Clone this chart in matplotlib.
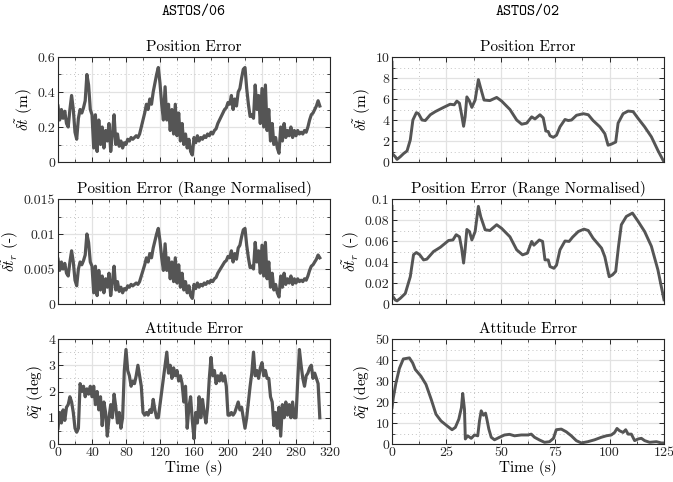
import numpy as np
import matplotlib
matplotlib.use("Agg")
import matplotlib.pyplot as plt
from matplotlib.ticker import MultipleLocator

plt.rcParams["font.family"] = "cmr10"
plt.rcParams["mathtext.fontset"] = "cm"
plt.rcParams["axes.unicode_minus"] = False

# ── data: ASTOS/06 (sampled every 2 s) ───────────────────────────────────────
t06 = np.arange(0, 310, 2)
pos06 = [
    0.32, 0.24, 0.30, 0.25, 0.29, 0.22, 0.20, 0.30, 0.38, 0.30,
    0.17, 0.13, 0.25, 0.30, 0.28, 0.31, 0.35, 0.50, 0.44, 0.30,
    0.27, 0.08, 0.27, 0.06, 0.24, 0.10, 0.20, 0.08, 0.18, 0.12,
    0.22, 0.06, 0.16, 0.27, 0.10, 0.16, 0.09, 0.12, 0.08, 0.11,
    0.10, 0.13, 0.12, 0.14, 0.13, 0.14, 0.15, 0.14, 0.16, 0.20,
    0.24, 0.28, 0.33, 0.30, 0.36, 0.33, 0.40, 0.45, 0.50, 0.54,
    0.45, 0.33, 0.24, 0.43, 0.24, 0.33, 0.18, 0.30, 0.16, 0.33,
    0.15, 0.28, 0.12, 0.22, 0.10, 0.16, 0.08, 0.13, 0.06, 0.04,
    0.14, 0.11, 0.15, 0.12, 0.14, 0.13, 0.15, 0.14, 0.16, 0.15,
    0.17, 0.16, 0.18, 0.19, 0.22, 0.24, 0.26, 0.28, 0.30, 0.31,
    0.34, 0.33, 0.38, 0.30, 0.36, 0.32, 0.40, 0.42, 0.48, 0.53,
    0.54, 0.42, 0.33, 0.26, 0.27, 0.25, 0.44, 0.30, 0.38, 0.22,
    0.42, 0.20, 0.44, 0.18, 0.30, 0.12, 0.22, 0.10, 0.14, 0.08,
    0.05, 0.20, 0.12, 0.22, 0.14, 0.18, 0.15, 0.20, 0.14, 0.18,
    0.15, 0.18, 0.16, 0.17, 0.16, 0.18, 0.17, 0.20, 0.24, 0.27,
    0.28, 0.30, 0.32, 0.35, 0.32,
]
posn06 = [
    0.0064, 0.0048, 0.0060, 0.0050, 0.0058, 0.0044, 0.0040, 0.0060, 0.0076, 0.0060,
    0.0034, 0.0026, 0.0050, 0.0060, 0.0056, 0.0062, 0.0070, 0.0100, 0.0088, 0.0060,
    0.0054, 0.0016, 0.0054, 0.0012, 0.0048, 0.0020, 0.0040, 0.0016, 0.0036, 0.0024,
    0.0044, 0.0012, 0.0032, 0.0054, 0.0020, 0.0032, 0.0018, 0.0024, 0.0016, 0.0022,
    0.0020, 0.0026, 0.0024, 0.0028, 0.0026, 0.0028, 0.0030, 0.0028, 0.0032, 0.0040,
    0.0048, 0.0056, 0.0066, 0.0060, 0.0072, 0.0066, 0.0080, 0.0090, 0.0100, 0.0108,
    0.0090, 0.0066, 0.0048, 0.0086, 0.0048, 0.0066, 0.0036, 0.0060, 0.0032, 0.0066,
    0.0030, 0.0056, 0.0024, 0.0044, 0.0020, 0.0032, 0.0016, 0.0026, 0.0012, 0.0008,
    0.0028, 0.0022, 0.0030, 0.0024, 0.0028, 0.0026, 0.0030, 0.0028, 0.0032, 0.0030,
    0.0034, 0.0032, 0.0036, 0.0038, 0.0044, 0.0048, 0.0052, 0.0056, 0.0060, 0.0062,
    0.0068, 0.0066, 0.0076, 0.0060, 0.0072, 0.0064, 0.0080, 0.0084, 0.0096, 0.0106,
    0.0108, 0.0084, 0.0066, 0.0052, 0.0054, 0.0050, 0.0088, 0.0060, 0.0076, 0.0044,
    0.0084, 0.0040, 0.0088, 0.0036, 0.0060, 0.0024, 0.0044, 0.0020, 0.0028, 0.0016,
    0.0010, 0.0040, 0.0024, 0.0044, 0.0028, 0.0036, 0.0030, 0.0040, 0.0028, 0.0036,
    0.0030, 0.0036, 0.0032, 0.0034, 0.0032, 0.0036, 0.0034, 0.0040, 0.0048, 0.0054,
    0.0056, 0.0060, 0.0064, 0.0070, 0.0066,
]
att06 = [
    0.6, 1.2, 0.8, 1.3, 0.9, 1.4, 1.5, 1.8, 1.6, 1.2,
    0.6, 0.45, 0.6, 2.3, 2.0, 2.2, 1.8, 2.1, 1.9, 2.2,
    1.8, 2.2, 1.5, 2.0, 1.3, 1.8, 0.7, 1.6, 1.2, 0.3,
    1.0, 1.5, 1.0, 1.9, 1.4, 0.8, 1.2, 0.6, 1.0, 2.8,
    3.6, 2.8, 2.6, 2.2, 2.4, 2.3, 2.6, 3.0, 2.6, 2.2,
    1.2, 1.1, 1.2, 1.1, 1.3, 1.2, 1.7, 1.3, 1.0, 1.0,
    1.5, 2.0, 2.5, 3.0, 3.5, 2.7, 3.0, 2.5, 2.9, 2.6,
    2.8, 2.4, 2.6, 2.3, 1.6, 2.2, 0.6, 1.4, 1.8, 0.9,
    0.2, 1.2, 0.8, 1.8, 1.0, 1.7, 1.2, 0.8, 1.4, 2.5,
    3.3, 2.6, 2.8, 2.3, 2.6, 2.4, 2.7, 2.4, 2.6, 2.2,
    1.1, 1.1, 1.2, 1.1, 1.2, 1.4, 1.6, 1.3, 1.4, 1.0,
    0.6, 1.0, 1.6, 2.2, 2.7, 3.5, 2.6, 2.8, 2.5, 2.9,
    3.1, 2.6, 2.8, 2.5, 2.5, 1.8, 1.6, 0.7, 1.2, 0.6,
    1.4, 0.3, 1.5, 1.0, 1.6, 1.1, 1.5, 1.0, 1.6, 1.0,
    1.0, 2.4, 3.6, 3.0, 2.5, 2.2, 2.6, 2.7, 2.9, 3.0,
    2.5, 2.7, 2.5, 2.3, 1.0,
]

# ── data: ASTOS/02 ───────────────────────────────────────────────────────────
t02_pos = [0, 0.1, 1.5, 2.3, 3.8, 5.3, 6.9, 8.4, 9.6, 11.2, 12.2, 13.8, 15.3,
           17.6, 19.9, 23.7, 26.7, 28.6, 29.8, 31.0, 32.0, 32.9, 33.6, 34.4,
           35.6, 36.7, 38.2, 39.7, 40.8, 42.3, 45.0, 48.1, 50.4, 54.2, 57.3,
           59.6, 61.9, 64.2, 65.7, 68.0, 69.5, 70.7, 71.8, 72.6, 74.1, 75.6,
           77.2, 79.5, 81.0, 82.5, 84.8, 87.9, 90.2, 92.4, 95.5, 97.8, 99.3,
           100.8, 102.8, 103.9, 106.2, 108.5, 110.8, 113.1, 116.1, 119.2,
           122.2, 125.0]
pos02 = [9.5, 0.8, 0.5, 0.25, 0.5, 0.8, 1.05, 2.1, 4.0, 4.7, 4.6, 4.0, 3.95,
         4.5, 4.8, 5.2, 5.5, 5.45, 5.8, 5.6, 4.5, 3.4, 4.3, 6.2,
         5.8, 5.2, 5.9, 7.85, 7.0, 5.9, 5.85, 6.15, 5.8, 5.0, 4.0,
         3.6, 3.7, 4.3, 4.1, 4.5, 4.2, 2.95, 2.9, 2.5, 2.35, 2.55,
         3.35, 4.05, 3.95, 4.0, 4.45, 4.6, 4.5, 3.95, 3.35, 2.7, 1.6,
         1.7, 1.9, 3.7, 4.6, 4.85, 4.8, 4.15, 3.35, 2.4,
         1.1, 0.0]
t02_posn = [0, 0.1, 1.5, 2.3, 3.8, 6.1, 8.4, 9.9, 11.2, 12.7, 14.5, 16.0,
            19.1, 22.2, 26.0, 28.0, 29.5, 31.0, 32.0, 32.9, 33.6, 34.4, 35.6,
            36.7, 38.2, 39.7, 40.8, 42.8, 45.0, 48.1, 50.4, 54.2, 57.3, 60.0,
            62.2, 64.2, 65.2, 67.7, 69.2, 70.3, 71.8, 72.6, 74.4, 75.6, 77.2,
            79.5, 81.4, 83.0, 85.6, 88.2, 90.2, 92.4, 96.3, 97.8, 99.8, 101.3,
            102.8, 104.1, 105.4, 107.7, 110.5, 113.1, 116.1, 119.2, 122.2, 125.0]
posn02 = [0.093, 0.008, 0.0038, 0.003, 0.0054, 0.010, 0.026, 0.047, 0.049,
          0.047, 0.042, 0.0427, 0.050, 0.054, 0.0605, 0.061, 0.066, 0.064,
          0.053, 0.039, 0.052, 0.071, 0.069, 0.061, 0.069, 0.093, 0.083,
          0.0707, 0.070, 0.0755, 0.072, 0.064, 0.0516, 0.0468, 0.0484,
          0.0596, 0.056, 0.061, 0.0596, 0.042, 0.042, 0.0357, 0.034, 0.037,
          0.0516, 0.060, 0.0596, 0.0637, 0.069, 0.0713, 0.070, 0.0627,
          0.0532, 0.045, 0.026, 0.0277, 0.031, 0.055, 0.0755, 0.0834,
          0.0866, 0.0787, 0.069, 0.055, 0.0325, 0.004]
t02_att = [0, 0.6, 1.8, 3.4, 5.2, 8.0, 9.5, 10.7, 13.3, 15.6, 18.0, 20.2,
           22.5, 25.6, 27.6, 29.1, 30.7, 31.9, 32.5, 33.3, 33.7, 34.8, 36.4,
           37.9, 39.4, 40.2, 41.0, 42.0, 43.0, 43.6, 44.5, 45.6, 47.1, 49.4,
           51.7, 54.0, 56.3, 59.4, 62.4, 64.0, 65.5, 67.8, 70.1, 72.4, 74.2,
           75.5, 77.8, 80.1, 82.4, 84.7, 87.0, 90.0, 93.1, 96.2, 98.5, 100.8,
           102.3, 103.4, 104.6, 106.2, 107.4, 108.5, 110.0, 111.5, 113.1,
           114.6, 116.1, 118.4, 121.5, 123.8, 125.0]
att02 = [17.3, 22.0, 29.0, 36.0, 40.5, 41.0, 38.6, 35.5, 32.3, 28.4, 21.3,
         14.2, 11.0, 8.4, 6.8, 7.9, 11.8, 17.3, 24.1, 16.6, 2.4, 3.9, 2.7,
         4.3, 3.9, 11.0, 15.8, 13.7, 14.7, 11.8, 7.1, 3.2, 2.0, 3.2, 4.3,
         4.6, 3.9, 4.3, 4.3, 4.7, 3.2, 1.9, 0.8, 1.1, 2.7, 6.8, 7.1, 5.8,
         3.9, 1.6, 0.5, 1.1, 2.0, 3.2, 3.9, 4.3, 5.5, 7.4, 6.3, 5.5, 6.8,
         4.7, 4.7, 1.6, 2.4, 2.7, 1.6, 0.8, 1.1, 0.5, 0.5]

col_titles = ["ASTOS/06", "ASTOS/02"]
row_titles = ["Position Error", "Position Error (Range Normalised)", "Attitude Error"]
ylabels = [r"$\delta\tilde{t}$ (m)", r"$\delta\tilde{t}_r$ (-)", r"$\delta\tilde{q}$ (deg)"]

xticks06 = [0, 40, 80, 120, 160, 200, 240, 280, 320]
xticks02 = [0, 25, 50, 75, 100, 125]
yticks = {
    (0, 0): ([0, 0.2, 0.4, 0.6], ["0", "0.2", "0.4", "0.6"]),
    (1, 0): ([0, 0.005, 0.01, 0.015], ["0", "0.005", "0.01", "0.015"]),
    (2, 0): ([0, 1, 2, 3, 4], ["0", "1", "2", "3", "4"]),
    (0, 1): ([0, 2, 4, 6, 8, 10], ["0", "2", "4", "6", "8", "10"]),
    (1, 1): ([0, 0.02, 0.04, 0.06, 0.08, 0.1], ["0", "0.02", "0.04", "0.06", "0.08", "0.1"]),
    (2, 1): ([0, 10, 20, 30, 40, 50], ["0", "10", "20", "30", "40", "50"]),
}

series = {
    (0, 0): (t06, pos06), (1, 0): (t06, posn06), (2, 0): (t06, att06),
    (0, 1): (t02_pos, pos02), (1, 1): (t02_posn, posn02), (2, 1): (t02_att, att02),
}

# ── figure ───────────────────────────────────────────────────────────────────
W, H = 673, 482
fig = plt.figure(figsize=(W / 100, H / 100), dpi=100)

lefts = [58, 392]
tops = [57, 199, 339]
ax_w, ax_h = 272, 105
line_col = "#555555"

for r in range(3):
    for c in range(2):
        ax = fig.add_axes([lefts[c] / W, 1 - (tops[r] + ax_h) / H, ax_w / W, ax_h / H])
        x, y = series[(r, c)]
        lw = 2.3 if c == 0 else 2.1
        ax.plot(x, y, color=line_col, linewidth=lw, solid_joinstyle="round")

        if c == 0:
            ax.set_xlim(0, 320)
            ax.set_xticks(xticks06)
            ax.xaxis.set_minor_locator(MultipleLocator(20))
        else:
            ax.set_xlim(0, 125)
            ax.set_xticks(xticks02)
            ax.xaxis.set_minor_locator(MultipleLocator(12.5))
        yt, yl = yticks[(r, c)]
        ax.set_ylim(yt[0], yt[-1])
        ax.set_yticks(yt, yl)
        ax.yaxis.set_minor_locator(MultipleLocator((yt[1] - yt[0]) / 2))

        if r < 2:
            ax.set_xticklabels([])
        else:
            ax.set_xlabel("Time (s)", fontsize=11, labelpad=1)

        ax.set_title(row_titles[r], fontsize=11, pad=4)
        ax.set_ylabel(ylabels[r], fontsize=11, labelpad=2)

        ax.grid(which="major", color="#e2e2e2", linewidth=0.9, linestyle="-")
        ax.grid(which="minor", color="#c4c4c4", linewidth=0.7, linestyle=(0, (1, 3)))
        ax.set_axisbelow(True)
        ax.tick_params(which="both", direction="in", top=True, right=True,
                       labelsize=10, colors="#262626", pad=2)
        ax.tick_params(which="major", length=3.5, width=0.7)
        ax.tick_params(which="minor", length=2, width=0.6)
        for s in ax.spines.values():
            s.set_color("#262626")
            s.set_linewidth(0.8)

for c in range(2):
    fig.text((lefts[c] + ax_w / 2) / W, 1 - 12 / H, col_titles[c],
             family="cmtt10", fontsize=11, ha="center", va="center")

fig.savefig("out.png", dpi=100)
